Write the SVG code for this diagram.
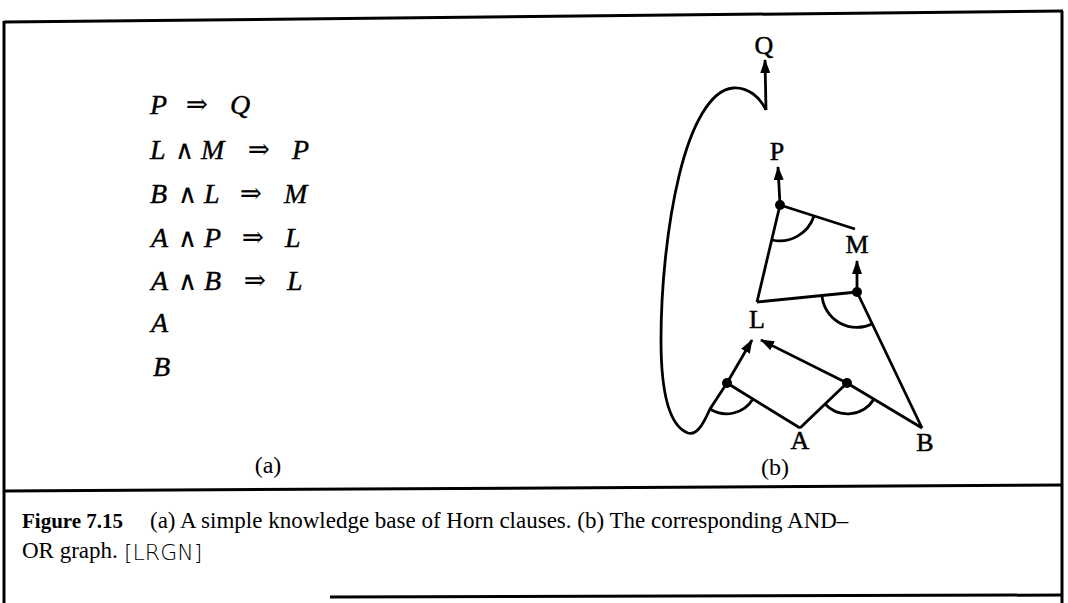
<svg xmlns="http://www.w3.org/2000/svg" width="1068" height="603" viewBox="0 0 1068 603">
<defs>
<marker id="ah" viewBox="0 0 14 10" refX="13" refY="5" markerWidth="14" markerHeight="10" markerUnits="userSpaceOnUse" orient="auto">
<path d="M0,0 L14,5 L0,10 z" fill="#000"/>
</marker>
</defs>
<style>
.m{font-family:"Liberation Serif","DejaVu Serif",serif;font-style:italic;font-size:28px;stroke:#000;stroke-width:0.4;}
.op{font-family:"DejaVu Serif",serif;font-style:normal;font-size:26px;stroke-width:0.2;}
.lab{font-family:"Liberation Serif",serif;font-size:26px;text-anchor:middle;stroke:#000;stroke-width:0.5;}
.sub{font-family:"Liberation Serif",serif;font-size:24px;text-anchor:middle;}
.cap{font-family:"Liberation Serif",serif;font-size:23px;}
.hand{font-family:"DejaVu Sans",sans-serif;font-size:22px;font-weight:300;}
.e{stroke:#000;stroke-width:2.8;fill:none;}
.fr{stroke:#000;stroke-width:3;fill:none;}
.dot{fill:#000;}
</style>
<rect width="1068" height="603" fill="#fff"/>
<g id="frame">
<line class="fr" x1="4" y1="22" x2="1063" y2="11"/>
<line class="fr" x1="4" y1="21" x2="4" y2="603"/>
<line class="fr" x1="1062" y1="11" x2="1062" y2="603"/>
<line class="fr" x1="4" y1="491" x2="1063" y2="485"/>
<line class="fr" x1="330" y1="597" x2="1063" y2="595"/>
</g>
<g id="clauses" class="m">
<text x="150" y="114">P</text><text class="op" x="186" y="113">⇒</text><text x="230" y="114">Q</text>
<text x="150" y="159">L</text><text class="op" x="175" y="159">∧</text><text x="201" y="159">M</text><text class="op" x="248" y="158">⇒</text><text x="292" y="159">P</text>
<text x="150" y="203">B</text><text class="op" x="178" y="203">∧</text><text x="204" y="203">L</text><text class="op" x="240" y="202">⇒</text><text x="284" y="203">M</text>
<text x="151" y="247">A</text><text class="op" x="178" y="247">∧</text><text x="204" y="247">P</text><text class="op" x="242" y="246">⇒</text><text x="285" y="247">L</text>
<text x="151" y="290">A</text><text class="op" x="178" y="290">∧</text><text x="204" y="290">B</text><text class="op" x="244" y="289">⇒</text><text x="287" y="290">L</text>
<text x="151" y="332">A</text>
<text x="153" y="376">B</text>
</g>
<g id="connectors">
<line class="e" x1="766" y1="110" x2="765" y2="60" marker-end="url(#ah)"/>
<path class="e" d="M766,110 C760,97 748,87 733,88 C710,90 691,126 679,176 C667,226 661,288 661,340 C661,392 669,426 688,433 C698,436 705,420 710,409 L727,383"/>
<line class="e" x1="780" y1="205" x2="778" y2="167" marker-end="url(#ah)"/>
<line class="e" x1="780" y1="205" x2="855" y2="229"/>
<line class="e" x1="780" y1="205" x2="757" y2="302"/>
<path class="e" d="M772,240 A36,36 0 0 0 814,216"/>
<line class="e" x1="857" y1="292" x2="857" y2="261" marker-end="url(#ah)"/>
<line class="e" x1="757" y1="302" x2="857" y2="292"/>
<line class="e" x1="857" y1="292" x2="922" y2="428"/>
<path class="e" d="M822,296 A35,35 0 0 0 872,324"/>
<line class="e" x1="727" y1="383" x2="752" y2="340" marker-end="url(#ah)"/>
<line class="e" x1="847" y1="383" x2="761" y2="340" marker-end="url(#ah)"/>
<line class="e" x1="727" y1="383" x2="800" y2="428"/>
<line class="e" x1="847" y1="383" x2="800" y2="428"/>
<line class="e" x1="847" y1="383" x2="922" y2="428"/>
<path class="e" d="M710,409 A31,31 0 0 0 753,399"/>
<path class="e" d="M825,404 A31,31 0 0 0 874,399"/>
</g>
<g id="and-nodes">
<circle class="dot" cx="780" cy="205" r="5"/>
<circle class="dot" cx="857" cy="292" r="5"/>
<circle class="dot" cx="727" cy="383" r="5"/>
<circle class="dot" cx="847" cy="383" r="5"/>
</g>
<g id="node-Q"><text class="lab" x="764" y="54">Q</text></g>
<g id="node-P"><text class="lab" x="777" y="160">P</text></g>
<g id="node-M"><text class="lab" x="857" y="253">M</text></g>
<g id="node-L"><text class="lab" x="757" y="328">L</text></g>
<g id="node-A"><text class="lab" x="800" y="449">A</text></g>
<g id="node-B"><text class="lab" x="925" y="451">B</text></g>
<g id="sublabels" class="sub">
<text x="268" y="473">(a)</text>
<text x="775" y="475">(b)</text>
</g>
<g id="caption" class="cap">
<text x="22" y="528"><tspan font-weight="bold" font-size="21">Figure 7.15</tspan><tspan x="150">(a) A simple knowledge base of Horn clauses. (b) The corresponding AND–</tspan></text>
<text x="22" y="558">OR graph.</text>
<text class="hand" x="124" y="560">[LRGN]</text>
</g>
</svg>
